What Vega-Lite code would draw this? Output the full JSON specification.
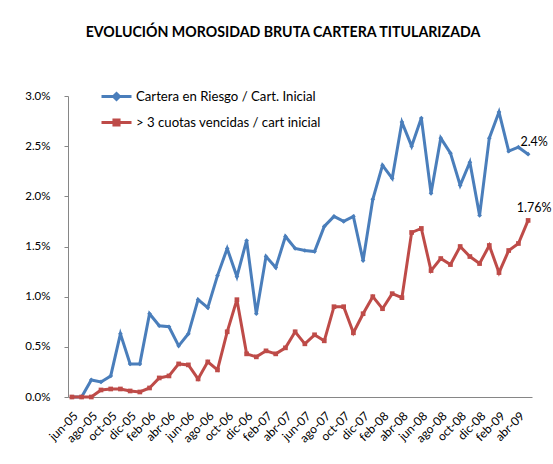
{
  "$schema": "https://vega.github.io/schema/vega-lite/v6.json",
  "autosize": "none",
  "width": 464,
  "height": 301,
  "padding": {"left": 68, "top": 96, "right": 21, "bottom": 67},
  "background": "white",
  "config": {
    "font": "Lato",
    "view": {"stroke": null},
    "axis": {"labelFont": "Lato", "labelColor": "#000000", "domainColor": "#868686", "tickColor": "#868686", "grid": false, "title": null}
  },
  "title": {
    "text": "EVOLUCIÓN MOROSIDAD BRUTA CARTERA TITULARIZADA",
    "font": "Lato",
    "fontSize": 14.2,
    "fontWeight": "bold",
    "color": "#000000",
    "anchor": "middle",
    "dx": -17,
    "offset": 40
  },
  "data": {
    "values": [
      {"mes": "jun-05", "serie": "Cartera en Riesgo / Cart. Inicial", "valor": 0.0},
      {"mes": "jul-05", "serie": "Cartera en Riesgo / Cart. Inicial", "valor": 0.0},
      {"mes": "ago-05", "serie": "Cartera en Riesgo / Cart. Inicial", "valor": 0.17},
      {"mes": "sep-05", "serie": "Cartera en Riesgo / Cart. Inicial", "valor": 0.15},
      {"mes": "oct-05", "serie": "Cartera en Riesgo / Cart. Inicial", "valor": 0.21},
      {"mes": "nov-05", "serie": "Cartera en Riesgo / Cart. Inicial", "valor": 0.63},
      {"mes": "dic-05", "serie": "Cartera en Riesgo / Cart. Inicial", "valor": 0.33},
      {"mes": "ene-06", "serie": "Cartera en Riesgo / Cart. Inicial", "valor": 0.33},
      {"mes": "feb-06", "serie": "Cartera en Riesgo / Cart. Inicial", "valor": 0.83},
      {"mes": "mar-06", "serie": "Cartera en Riesgo / Cart. Inicial", "valor": 0.71},
      {"mes": "abr-06", "serie": "Cartera en Riesgo / Cart. Inicial", "valor": 0.70},
      {"mes": "may-06", "serie": "Cartera en Riesgo / Cart. Inicial", "valor": 0.51},
      {"mes": "jun-06", "serie": "Cartera en Riesgo / Cart. Inicial", "valor": 0.63},
      {"mes": "jul-06", "serie": "Cartera en Riesgo / Cart. Inicial", "valor": 0.97},
      {"mes": "ago-06", "serie": "Cartera en Riesgo / Cart. Inicial", "valor": 0.89},
      {"mes": "sep-06", "serie": "Cartera en Riesgo / Cart. Inicial", "valor": 1.21},
      {"mes": "oct-06", "serie": "Cartera en Riesgo / Cart. Inicial", "valor": 1.48},
      {"mes": "nov-06", "serie": "Cartera en Riesgo / Cart. Inicial", "valor": 1.20},
      {"mes": "dic-06", "serie": "Cartera en Riesgo / Cart. Inicial", "valor": 1.56},
      {"mes": "ene-07", "serie": "Cartera en Riesgo / Cart. Inicial", "valor": 0.83},
      {"mes": "feb-07", "serie": "Cartera en Riesgo / Cart. Inicial", "valor": 1.40},
      {"mes": "mar-07", "serie": "Cartera en Riesgo / Cart. Inicial", "valor": 1.29},
      {"mes": "abr-07", "serie": "Cartera en Riesgo / Cart. Inicial", "valor": 1.60},
      {"mes": "may-07", "serie": "Cartera en Riesgo / Cart. Inicial", "valor": 1.48},
      {"mes": "jun-07", "serie": "Cartera en Riesgo / Cart. Inicial", "valor": 1.46},
      {"mes": "jul-07", "serie": "Cartera en Riesgo / Cart. Inicial", "valor": 1.45},
      {"mes": "ago-07", "serie": "Cartera en Riesgo / Cart. Inicial", "valor": 1.70},
      {"mes": "sep-07", "serie": "Cartera en Riesgo / Cart. Inicial", "valor": 1.80},
      {"mes": "oct-07", "serie": "Cartera en Riesgo / Cart. Inicial", "valor": 1.75},
      {"mes": "nov-07", "serie": "Cartera en Riesgo / Cart. Inicial", "valor": 1.80},
      {"mes": "dic-07", "serie": "Cartera en Riesgo / Cart. Inicial", "valor": 1.36},
      {"mes": "ene-08", "serie": "Cartera en Riesgo / Cart. Inicial", "valor": 1.97},
      {"mes": "feb-08", "serie": "Cartera en Riesgo / Cart. Inicial", "valor": 2.31},
      {"mes": "mar-08", "serie": "Cartera en Riesgo / Cart. Inicial", "valor": 2.18},
      {"mes": "abr-08", "serie": "Cartera en Riesgo / Cart. Inicial", "valor": 2.74},
      {"mes": "may-08", "serie": "Cartera en Riesgo / Cart. Inicial", "valor": 2.50},
      {"mes": "jun-08", "serie": "Cartera en Riesgo / Cart. Inicial", "valor": 2.78},
      {"mes": "jul-08", "serie": "Cartera en Riesgo / Cart. Inicial", "valor": 2.03},
      {"mes": "ago-08", "serie": "Cartera en Riesgo / Cart. Inicial", "valor": 2.58},
      {"mes": "sep-08", "serie": "Cartera en Riesgo / Cart. Inicial", "valor": 2.43},
      {"mes": "oct-08", "serie": "Cartera en Riesgo / Cart. Inicial", "valor": 2.11},
      {"mes": "nov-08", "serie": "Cartera en Riesgo / Cart. Inicial", "valor": 2.34},
      {"mes": "dic-08", "serie": "Cartera en Riesgo / Cart. Inicial", "valor": 1.81},
      {"mes": "ene-09", "serie": "Cartera en Riesgo / Cart. Inicial", "valor": 2.58},
      {"mes": "feb-09", "serie": "Cartera en Riesgo / Cart. Inicial", "valor": 2.84},
      {"mes": "mar-09", "serie": "Cartera en Riesgo / Cart. Inicial", "valor": 2.45},
      {"mes": "abr-09", "serie": "Cartera en Riesgo / Cart. Inicial", "valor": 2.49},
      {"mes": "may-09", "serie": "Cartera en Riesgo / Cart. Inicial", "valor": 2.42, "etiqueta": "2.4%"},
      {"mes": "jun-05", "serie": "> 3 cuotas vencidas / cart inicial", "valor": 0.0},
      {"mes": "jul-05", "serie": "> 3 cuotas vencidas / cart inicial", "valor": 0.0},
      {"mes": "ago-05", "serie": "> 3 cuotas vencidas / cart inicial", "valor": 0.0},
      {"mes": "sep-05", "serie": "> 3 cuotas vencidas / cart inicial", "valor": 0.07},
      {"mes": "oct-05", "serie": "> 3 cuotas vencidas / cart inicial", "valor": 0.08},
      {"mes": "nov-05", "serie": "> 3 cuotas vencidas / cart inicial", "valor": 0.08},
      {"mes": "dic-05", "serie": "> 3 cuotas vencidas / cart inicial", "valor": 0.06},
      {"mes": "ene-06", "serie": "> 3 cuotas vencidas / cart inicial", "valor": 0.05},
      {"mes": "feb-06", "serie": "> 3 cuotas vencidas / cart inicial", "valor": 0.09},
      {"mes": "mar-06", "serie": "> 3 cuotas vencidas / cart inicial", "valor": 0.19},
      {"mes": "abr-06", "serie": "> 3 cuotas vencidas / cart inicial", "valor": 0.21},
      {"mes": "may-06", "serie": "> 3 cuotas vencidas / cart inicial", "valor": 0.33},
      {"mes": "jun-06", "serie": "> 3 cuotas vencidas / cart inicial", "valor": 0.32},
      {"mes": "jul-06", "serie": "> 3 cuotas vencidas / cart inicial", "valor": 0.18},
      {"mes": "ago-06", "serie": "> 3 cuotas vencidas / cart inicial", "valor": 0.35},
      {"mes": "sep-06", "serie": "> 3 cuotas vencidas / cart inicial", "valor": 0.27},
      {"mes": "oct-06", "serie": "> 3 cuotas vencidas / cart inicial", "valor": 0.65},
      {"mes": "nov-06", "serie": "> 3 cuotas vencidas / cart inicial", "valor": 0.97},
      {"mes": "dic-06", "serie": "> 3 cuotas vencidas / cart inicial", "valor": 0.43},
      {"mes": "ene-07", "serie": "> 3 cuotas vencidas / cart inicial", "valor": 0.40},
      {"mes": "feb-07", "serie": "> 3 cuotas vencidas / cart inicial", "valor": 0.46},
      {"mes": "mar-07", "serie": "> 3 cuotas vencidas / cart inicial", "valor": 0.43},
      {"mes": "abr-07", "serie": "> 3 cuotas vencidas / cart inicial", "valor": 0.49},
      {"mes": "may-07", "serie": "> 3 cuotas vencidas / cart inicial", "valor": 0.65},
      {"mes": "jun-07", "serie": "> 3 cuotas vencidas / cart inicial", "valor": 0.53},
      {"mes": "jul-07", "serie": "> 3 cuotas vencidas / cart inicial", "valor": 0.62},
      {"mes": "ago-07", "serie": "> 3 cuotas vencidas / cart inicial", "valor": 0.56},
      {"mes": "sep-07", "serie": "> 3 cuotas vencidas / cart inicial", "valor": 0.90},
      {"mes": "oct-07", "serie": "> 3 cuotas vencidas / cart inicial", "valor": 0.90},
      {"mes": "nov-07", "serie": "> 3 cuotas vencidas / cart inicial", "valor": 0.64},
      {"mes": "dic-07", "serie": "> 3 cuotas vencidas / cart inicial", "valor": 0.83},
      {"mes": "ene-08", "serie": "> 3 cuotas vencidas / cart inicial", "valor": 1.00},
      {"mes": "feb-08", "serie": "> 3 cuotas vencidas / cart inicial", "valor": 0.88},
      {"mes": "mar-08", "serie": "> 3 cuotas vencidas / cart inicial", "valor": 1.03},
      {"mes": "abr-08", "serie": "> 3 cuotas vencidas / cart inicial", "valor": 0.99},
      {"mes": "may-08", "serie": "> 3 cuotas vencidas / cart inicial", "valor": 1.64},
      {"mes": "jun-08", "serie": "> 3 cuotas vencidas / cart inicial", "valor": 1.68},
      {"mes": "jul-08", "serie": "> 3 cuotas vencidas / cart inicial", "valor": 1.26},
      {"mes": "ago-08", "serie": "> 3 cuotas vencidas / cart inicial", "valor": 1.38},
      {"mes": "sep-08", "serie": "> 3 cuotas vencidas / cart inicial", "valor": 1.32},
      {"mes": "oct-08", "serie": "> 3 cuotas vencidas / cart inicial", "valor": 1.50},
      {"mes": "nov-08", "serie": "> 3 cuotas vencidas / cart inicial", "valor": 1.40},
      {"mes": "dic-08", "serie": "> 3 cuotas vencidas / cart inicial", "valor": 1.33},
      {"mes": "ene-09", "serie": "> 3 cuotas vencidas / cart inicial", "valor": 1.51},
      {"mes": "feb-09", "serie": "> 3 cuotas vencidas / cart inicial", "valor": 1.24},
      {"mes": "mar-09", "serie": "> 3 cuotas vencidas / cart inicial", "valor": 1.46},
      {"mes": "abr-09", "serie": "> 3 cuotas vencidas / cart inicial", "valor": 1.53},
      {"mes": "may-09", "serie": "> 3 cuotas vencidas / cart inicial", "valor": 1.76, "etiqueta": "1.76%"}
    ]
  },
  "encoding": {
    "x": {
      "field": "mes",
      "type": "ordinal",
      "sort": null,
      "scale": {"type": "point", "padding": 0.4},
      "axis": {
        "values": ["jun-05","ago-05","oct-05","dic-05","feb-06","abr-06","jun-06","ago-06","oct-06","dic-06","feb-07","abr-07","jun-07","ago-07","oct-07","dic-07","feb-08","abr-08","jun-08","ago-08","oct-08","dic-08","feb-09","abr-09"],
        "labelAngle": -45,
        "labelFontSize": 12,
        "labelPadding": 13,
        "ticks": false,
        "labelOverlap": false
      }
    },
    "y": {
      "field": "valor",
      "type": "quantitative",
      "scale": {"domain": [0, 3], "nice": false},
      "axis": {
        "values": [0, 0.5, 1, 1.5, 2, 2.5, 3],
        "labelExpr": "format(datum.value, '.1f') + '%'",
        "labelFontSize": 11.5,
        "tickSize": 4,
        "labelPadding": 14
      }
    }
  },
  "layer": [
    {
      "mark": {"type": "line", "strokeWidth": 3},
      "encoding": {
        "color": {
          "field": "serie",
          "type": "nominal",
          "sort": ["Cartera en Riesgo / Cart. Inicial", "> 3 cuotas vencidas / cart inicial"],
          "scale": {"domain": ["Cartera en Riesgo / Cart. Inicial", "> 3 cuotas vencidas / cart inicial"], "range": ["#4A7EBB", "#BE4B48"]},
          "legend": {
            "orient": "none",
            "legendX": 32,
            "legendY": -16,
            "title": null,
            "symbolType": "M-1,0L1,0",
            "symbolSize": 900,
            "symbolStrokeWidth": 3,
            "labelFont": "Lato",
            "labelFontSize": 13.2,
            "labelColor": "#000000",
            "labelLimit": 400,
            "labelOffset": 3,
            "rowPadding": 0,
            "encode": {
              "symbols": {
                "update": {
                  "shape": {"signal": "datum.value === 'Cartera en Riesgo / Cart. Inicial' ? 'M-1,0L1,0M0,-0.2L0.2,0L0,0.2L-0.2,0Z' : 'M-1,0L1,0M-0.17,-0.17L0.17,-0.17L0.17,0.17L-0.17,0.17Z'"},
                  "fill": {"signal": "datum.value === 'Cartera en Riesgo / Cart. Inicial' ? '#4A7EBB' : '#BE4B48'"}
                }
              }
            }
          }
        }
      }
    },
    {
      "transform": [{"filter": "datum.serie === 'Cartera en Riesgo / Cart. Inicial'"}],
      "mark": {"type": "point", "filled": true, "opacity": 1, "shape": "diamond", "color": "#4A7EBB", "size": 22}
    },
    {
      "transform": [{"filter": "datum.serie === '> 3 cuotas vencidas / cart inicial'"}],
      "mark": {"type": "point", "filled": true, "opacity": 1, "shape": "square", "color": "#BE4B48", "size": 22}
    },
    {
      "transform": [{"filter": "isValid(datum.etiqueta)"}],
      "mark": {"type": "text", "font": "Lato", "fontSize": 12.5, "align": "center", "baseline": "bottom", "dx": 6, "dy": -5, "color": "#000000"},
      "encoding": {
        "text": {"field": "etiqueta"}
      }
    }
  ]
}
